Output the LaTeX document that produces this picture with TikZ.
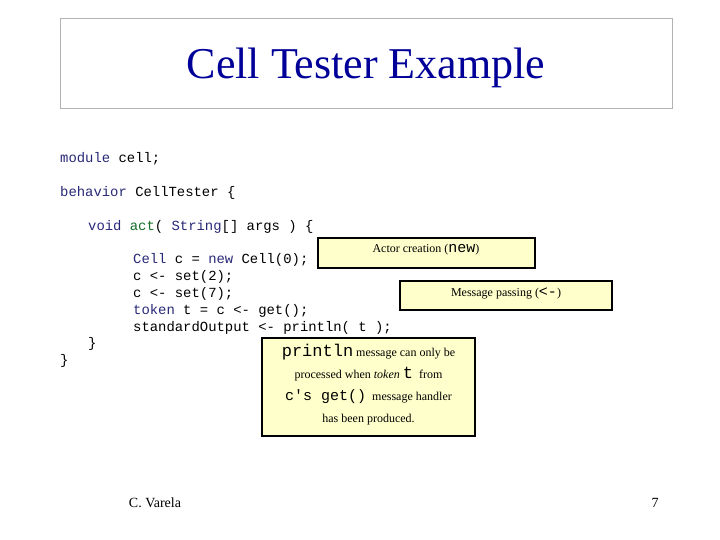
\documentclass[tikz,border=0pt]{standalone}
\usepackage{fontspec}
\setmainfont{Liberation Serif}
\setmonofont{Liberation Mono}
\definecolor{kwblue}{RGB}{40,40,120}
\definecolor{kwgreen}{RGB}{20,110,40}
\definecolor{notefill}{RGB}{255,255,204}
\definecolor{titleblue}{RGB}{0,0,153}
\newcommand{\kw}[1]{\textcolor{kwblue}{#1}}
\begin{document}
\begin{tikzpicture}[x=1pt,y=-1pt,
  code line/.style={anchor=west,inner sep=0pt,font=\ttfamily\fontsize{13.9}{13.9}\selectfont},
  note box/.style={rectangle,draw=black,line width=2.5pt,fill=notefill,
    font=\fontsize{12}{12}\selectfont,inner sep=0pt}]

  \useasboundingbox (0,0) rectangle (720,540);
  \node[draw=black!30,minimum width=612pt,minimum height=90pt] (frame) at (366,63) {};
  \node[text=titleblue,font=\fontsize{44}{44}\selectfont] (title) at (366,68) {Cell Tester Example};

  \node[code line] (l1) at (60,159) {\kw{module} cell;};
  \node[code line] (l2) at (60,193) {\kw{behavior} CellTester \{};
  \node[code line] (l3) at (88,227) {\kw{void} \textcolor{kwgreen}{act}( \kw{String}[] args ) \{};
  \node[code line] (l4) at (133,260) {\kw{Cell} c = \kw{new} Cell(0);};
  \node[code line] (l5) at (133,277) {c <- set(2);};
  \node[code line] (l6) at (133,294) {c <- set(7);};
  \node[code line] (l7) at (133,311) {\kw{token} t = c <- get();};
  \node[code line] (l8) at (133,328) {standardOutput <- println( t );};
  \node[code line] (l9) at (88,344) {\}};
  \node[code line] (l10) at (60,361) {\}};

  \node[note box,minimum width=217pt,minimum height=30pt] (new) at (426.5,253) {};
  \node[font=\fontsize{12}{12}\selectfont] at (426,250) {Actor creation (\texttt{\fontsize{15}{15}\selectfont new})};
  \node[note box,minimum width=212pt,minimum height=29pt] (send) at (506,295.5) {};
  \node[font=\fontsize{12}{12}\selectfont] at (506,293) {Message passing (\texttt{\fontsize{15}{15}\selectfont <-})};
  \node[note box,minimum width=213pt,minimum height=98pt] (note) at (368.5,387) {};
  \node[align=center,font=\fontsize{12}{22}\selectfont] (notetext) at (368.5,385)
    {\texttt{\fontsize{17}{17}\selectfont println} message can only be\\
     processed when \textit{token} \texttt{\fontsize{17}{17}\selectfont t}\enspace from\\
     \texttt{\fontsize{15}{15}\selectfont c's get()}\enspace message handler\\
     has been produced.};

  \node[font=\fontsize{14}{14}\selectfont] (author) at (155,503) {C. Varela};
  \node[font=\fontsize{14}{14}\selectfont] (page) at (655,503) {7};
\end{tikzpicture}
\end{document}
